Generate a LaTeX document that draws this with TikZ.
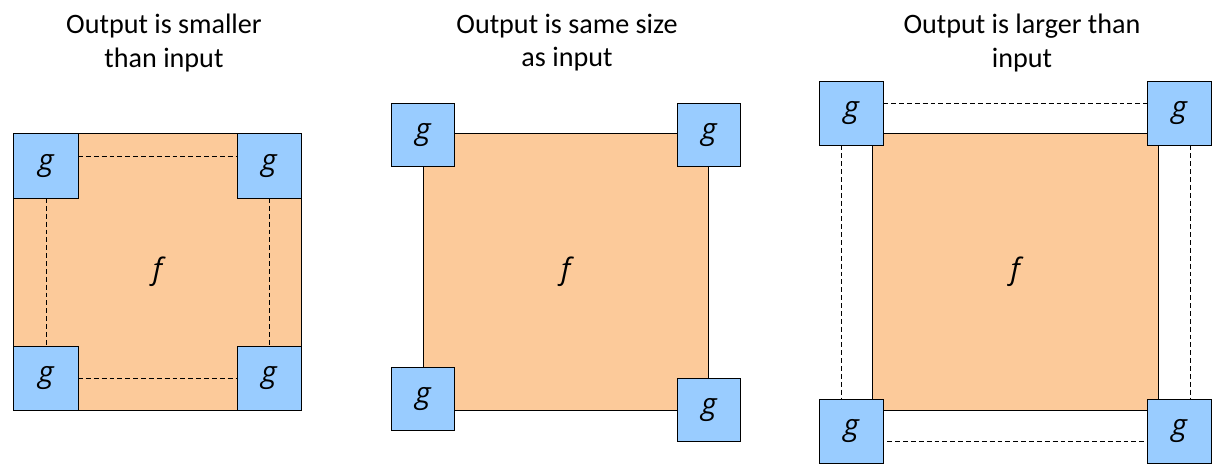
\documentclass[tikz,border=0pt]{standalone}
\usepackage{fontspec}
\setmainfont{Carlito}
\newfontfamily\symfont{Open Sans}
\usetikzlibrary{calc}
\definecolor{fcol}{RGB}{252,202,154}
\definecolor{gcol}{RGB}{153,204,255}

\begin{document}
\begin{tikzpicture}[
    x=0.025cm, y=-0.025cm,
    title/.style={align=center, font=\fontsize{20pt}{23.5pt}\selectfont},
    fbox/.style={rectangle, draw, fill=fcol, line width=0.7pt, inner sep=0pt, outer sep=0pt, minimum height=6.9cm, font=\symfont\fontsize{21pt}{24pt}\selectfont\itshape},
    gbox/.style={rectangle, draw, fill=gcol, line width=0.7pt, inner sep=0pt, outer sep=0pt, minimum size=1.6cm, font=\symfont\fontsize{21pt}{24pt}\selectfont\itshape},
    link/.style={line width=0.6pt, dash pattern=on 3.5pt off 2.1pt}
]
\useasboundingbox (0,0) rectangle (1223,472);

\node[title] (t1) at (164,43) {Output is smaller\\than input};
\node[title] (t2) at (567,43) {Output is same size\\as input};
\node[title] (t3) at (1022,43) {Output is larger than\\input};

% smaller
\node[fbox, minimum width=7.175cm] (f1) at (157.5,272) {f};
\node[gbox] (g1a) at (46,166) {g};
\node[gbox] (g1b) at (269,166) {g};
\node[gbox] (g1c) at (46,378) {g};
\node[gbox] (g1d) at (269,378) {g};
\draw[link] ($(g1a.east)+(0,-10)$) -- ($(g1b.west)+(0,-10)$);
\draw[link] (g1a.south) -- (g1c.north);
\draw[link] (g1b.south) -- (g1d.north);
\draw[link] (g1c.east) -- (g1d.west);

% same size
\node[fbox, minimum width=7.125cm] (f2) at (565.8,272) {f};
\node[gbox, minimum size=1.575cm] (g2a) at (423,135) {g};
\node[gbox, minimum size=1.575cm] (g2b) at (709,135) {g};
\node[gbox, minimum size=1.575cm] (g2c) at (423,399) {g};
\node[gbox, minimum size=1.575cm] (g2d) at (709,410) {g};

% larger
\node[fbox, minimum width=7.15cm] (f3) at (1015.3,272) {f};
\node[gbox] (g3a) at (851.3,113.5) {g};
\node[gbox] (g3b) at (1179.3,113.5) {g};
\node[gbox] (g3c) at (851.3,431.3) {g};
\node[gbox] (g3d) at (1179.3,431.3) {g};
\draw[link] ($(g3a.east)+(0,-10)$) -- ($(g3b.west)+(0,-10)$);
\draw[link] ($(g3a.south)+(-10,0)$) -- ($(g3c.north)+(-10,0)$);
\draw[link] ($(g3b.south)+(11,0)$) -- ($(g3d.north)+(11,0)$);
\draw[link] ($(g3c.east)+(4,10)$) -- ($(g3d.west)+(0,10)$);
\end{tikzpicture}
\end{document}
